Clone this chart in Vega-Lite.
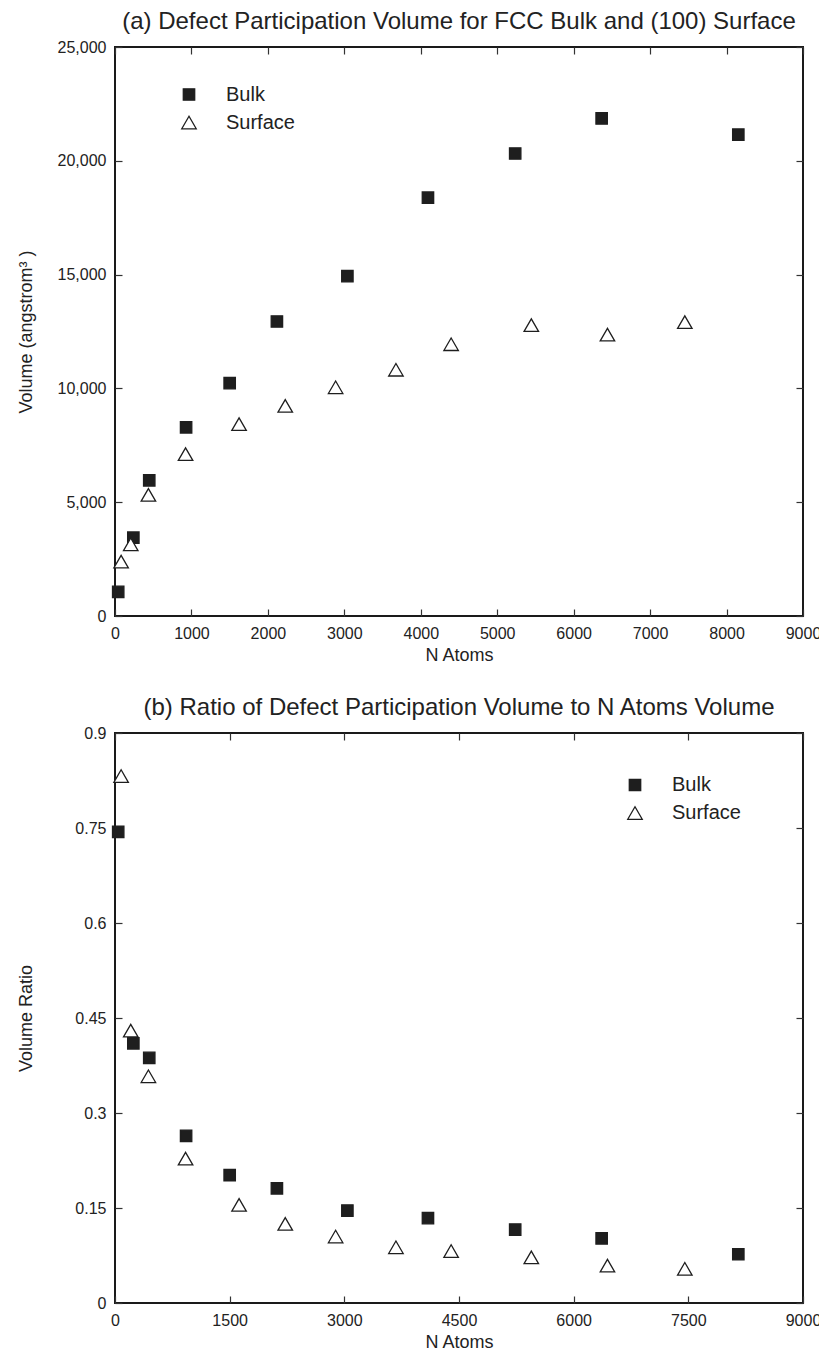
{
  "$schema": "https://vega.github.io/schema/vega-lite/v6.json",
  "padding": {"left": 16, "top": 9, "right": 0, "bottom": 0},
  "data": {
    "values": [
      {"series": "Bulk", "n": 42, "volume": 1060, "ratio": 0.744},
      {"series": "Bulk", "n": 240, "volume": 3440, "ratio": 0.410},
      {"series": "Bulk", "n": 448, "volume": 5960, "ratio": 0.387},
      {"series": "Bulk", "n": 930, "volume": 8290, "ratio": 0.264},
      {"series": "Bulk", "n": 1500, "volume": 10230, "ratio": 0.202},
      {"series": "Bulk", "n": 2118, "volume": 12940, "ratio": 0.181},
      {"series": "Bulk", "n": 3040, "volume": 14930, "ratio": 0.146},
      {"series": "Bulk", "n": 4094, "volume": 18380, "ratio": 0.134},
      {"series": "Bulk", "n": 5235, "volume": 20320, "ratio": 0.116},
      {"series": "Bulk", "n": 6366, "volume": 21860, "ratio": 0.102},
      {"series": "Bulk", "n": 8154, "volume": 21150, "ratio": 0.077},
      {"series": "Surface", "n": 80, "volume": 2390, "ratio": 0.832},
      {"series": "Surface", "n": 206, "volume": 3150, "ratio": 0.430},
      {"series": "Surface", "n": 437, "volume": 5320, "ratio": 0.358},
      {"series": "Surface", "n": 923, "volume": 7110, "ratio": 0.228},
      {"series": "Surface", "n": 1623, "volume": 8430, "ratio": 0.155},
      {"series": "Surface", "n": 2227, "volume": 9230, "ratio": 0.125},
      {"series": "Surface", "n": 2886, "volume": 10050, "ratio": 0.105},
      {"series": "Surface", "n": 3675, "volume": 10820, "ratio": 0.088},
      {"series": "Surface", "n": 4397, "volume": 11940, "ratio": 0.082},
      {"series": "Surface", "n": 5446, "volume": 12780, "ratio": 0.072},
      {"series": "Surface", "n": 6442, "volume": 12360, "ratio": 0.059},
      {"series": "Surface", "n": 7454, "volume": 12910, "ratio": 0.054}
    ]
  },
  "spacing": 30,
  "resolve": {
    "scale": {"x": "independent", "y": "independent", "shape": "independent", "fill": "independent", "size": "independent", "stroke": "independent"},
    "legend": {"shape": "independent", "fill": "independent", "size": "independent", "stroke": "independent"}
  },
  "vconcat": [
    {
      "width": 688,
      "height": 569,
      "title": {"text": "(a) Defect Participation Volume for FCC Bulk and (100) Surface", "offset": 5},
      "layer": [
        {
          "mark": {"type": "point", "strokeWidth": 1.3, "opacity": 1},
          "encoding": {
            "x": {"field": "n", "type": "quantitative", "scale": {"domain": [0, 9000], "nice": false, "zero": false},
                  "axis": {"orient": "bottom", "values": [0, 1000, 2000, 3000, 4000, 5000, 6000, 7000, 8000, 9000], "format": "d", "title": "N Atoms"}},
            "y": {"field": "volume", "type": "quantitative", "scale": {"domain": [0, 25000], "nice": false},
                  "axis": {"orient": "left", "values": [0, 5000, 10000, 15000, 20000, 25000], "format": ",d", "title": "Volume (angstrom³  )", "titleX": -80}},
            "shape": {"field": "series", "type": "nominal", "scale": {"domain": ["Bulk", "Surface"], "range": ["square", "triangle-up"]},
                      "legend": {"orient": "none", "legendX": 64, "legendY": 37.5, "title": null}},
            "fill": {"field": "series", "type": "nominal", "scale": {"domain": ["Bulk", "Surface"], "range": ["#1e1e1e", "#ffffff"]},
                     "legend": {"orient": "none", "legendX": 64, "legendY": 37.5, "title": null}},
            "stroke": {"field": "series", "type": "nominal", "scale": {"domain": ["Bulk", "Surface"], "range": ["#1e1e1e", "#1e1e1e"]},
                     "legend": {"orient": "none", "legendX": 64, "legendY": 37.5, "title": null}},
            "size": {"field": "series", "type": "nominal", "scale": {"domain": ["Bulk", "Surface"], "range": [130, 210]},
                     "legend": {"orient": "none", "legendX": 64, "legendY": 37.5, "title": null}}
          }
        },
        {
          "mark": {"type": "point", "opacity": 0},
          "encoding": {
            "x": {"field": "n", "type": "quantitative", "axis": {"orient": "top", "labels": false, "title": null, "values": [0, 1000, 2000, 3000, 4000, 5000, 6000, 7000, 8000, 9000]}},
            "y": {"field": "volume", "type": "quantitative", "axis": {"orient": "right", "labels": false, "title": null, "values": [0, 5000, 10000, 15000, 20000, 25000]}}
          }
        }
      ]
    },
    {
      "width": 688,
      "height": 570,
      "title": {"text": "(b) Ratio of Defect Participation Volume to N Atoms Volume", "offset": 5},
      "layer": [
        {
          "mark": {"type": "point", "strokeWidth": 1.3, "opacity": 1},
          "encoding": {
            "x": {"field": "n", "type": "quantitative", "scale": {"domain": [0, 9000], "nice": false, "zero": false},
                  "axis": {"orient": "bottom", "values": [0, 1500, 3000, 4500, 6000, 7500, 9000], "format": "d", "title": "N Atoms"}},
            "y": {"field": "ratio", "type": "quantitative", "scale": {"domain": [0, 0.9], "nice": false},
                  "axis": {"orient": "left", "values": [0, 0.15, 0.3, 0.45, 0.6, 0.75, 0.9], "format": ".2~f", "title": "Volume Ratio", "titleX": -80}},
            "shape": {"field": "series", "type": "nominal", "scale": {"domain": ["Bulk", "Surface"], "range": ["square", "triangle-up"]},
                      "legend": {"orient": "none", "legendX": 510, "legendY": 42, "title": null}},
            "fill": {"field": "series", "type": "nominal", "scale": {"domain": ["Bulk", "Surface"], "range": ["#1e1e1e", "#ffffff"]},
                     "legend": {"orient": "none", "legendX": 510, "legendY": 42, "title": null}},
            "stroke": {"field": "series", "type": "nominal", "scale": {"domain": ["Bulk", "Surface"], "range": ["#1e1e1e", "#1e1e1e"]},
                     "legend": {"orient": "none", "legendX": 510, "legendY": 42, "title": null}},
            "size": {"field": "series", "type": "nominal", "scale": {"domain": ["Bulk", "Surface"], "range": [130, 210]},
                     "legend": {"orient": "none", "legendX": 510, "legendY": 42, "title": null}}
          }
        },
        {
          "mark": {"type": "point", "opacity": 0},
          "encoding": {
            "x": {"field": "n", "type": "quantitative", "axis": {"orient": "top", "labels": false, "title": null, "values": [0, 1500, 3000, 4500, 6000, 7500, 9000]}},
            "y": {"field": "ratio", "type": "quantitative", "axis": {"orient": "right", "labels": false, "title": null, "values": [0, 0.15, 0.3, 0.45, 0.6, 0.75, 0.9]}}
          }
        }
      ]
    }
  ],
  "config": {
    "font": "Liberation Sans",
    "background": "#ffffff",
    "view": {"stroke": "#1a1a1a", "strokeWidth": 2},
    "axis": {
      "domain": false, "grid": false,
      "tickSize": -7, "tickColor": "#333333", "tickWidth": 1.2,
      "labelFontSize": 16, "labelColor": "#222222", "labelPadding": 16, "labelFlush": false, "labelOverlap": false,
      "titleFontSize": 18, "titleFontWeight": "normal", "titleColor": "#222222", "titlePadding": 5
    },
    "title": {"fontSize": 24, "fontWeight": "normal", "color": "#222222"},
    "legend": {
      "labelFontSize": 20, "labelColor": "#222222",
      "symbolStrokeColor": "#1e1e1e", "symbolStrokeWidth": 1.3,
      "rowPadding": 8, "labelOffset": 27, "padding": 0
    }
  }
}
